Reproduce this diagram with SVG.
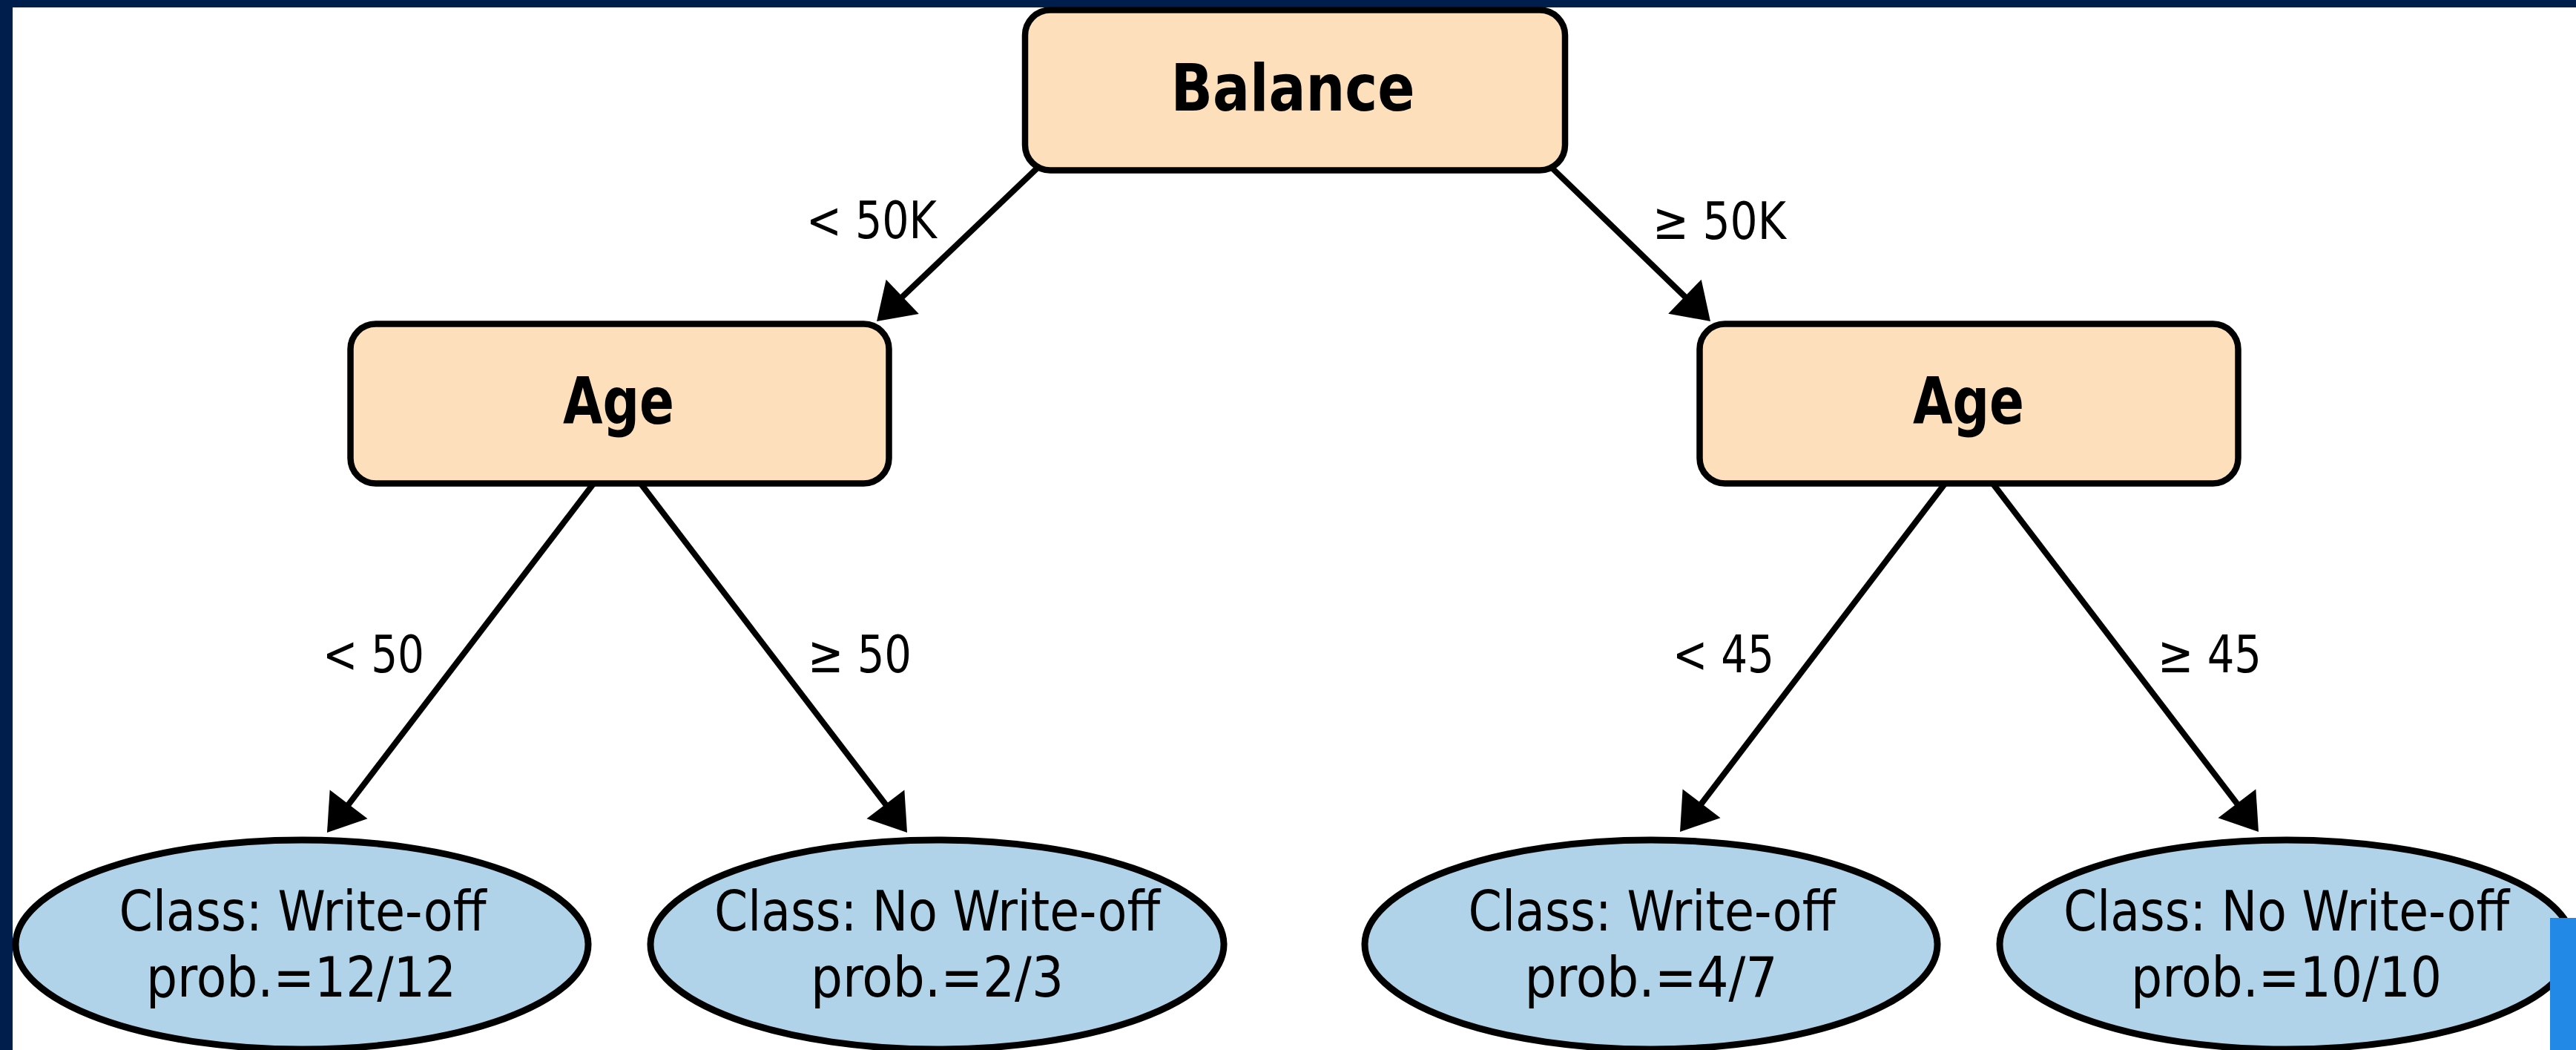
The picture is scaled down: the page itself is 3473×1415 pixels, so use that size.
<svg xmlns="http://www.w3.org/2000/svg" width="3473" height="1415" viewBox="0 0 3473 1415">
  <style>
    .box { fill: #FDDFBB; stroke: #000; stroke-width: 8.5; }
    .leaf { fill: #B0D3EA; stroke: #000; stroke-width: 9; }
    .edge { fill: none; stroke: #000; stroke-width: 8; marker-end: url(#arrow); }
    .title { font-family: "Liberation Sans Narrow", "DejaVu Sans Condensed", "Liberation Sans", sans-serif; font-weight: bold; font-size: 88px; text-anchor: middle; fill: #000; }
    .txt { font-family: "Liberation Sans Narrow", "DejaVu Sans Condensed", "Liberation Sans", sans-serif; font-size: 74px; text-anchor: middle; fill: #000; }
    .lbl { font-family: "Liberation Sans Narrow", "DejaVu Sans Condensed", "Liberation Sans", sans-serif; font-size: 70px; fill: #000; }
  </style>
  <defs>
    <!-- arrowhead: reference point sits 20px behind the tip -->
    <marker id="arrow" markerUnits="userSpaceOnUse" viewBox="-32 -34 54 68" markerWidth="54" markerHeight="68" refX="0" refY="0" orient="auto">
      <path d="M20,0 L-28,-32 L-28,32 Z" fill="#000"/>
    </marker>
  </defs>

  <!-- page background and frame -->
  <rect x="0" y="0" width="3473" height="1415" fill="#fff"/>
  <rect x="0" y="0" width="3473" height="10" fill="#001E4B"/>
  <rect x="0" y="0" width="17" height="1415" fill="#001E4B"/>

  <!-- connectors -->
  <g id="connectors">
    <line class="edge" x1="1400" y1="225" x2="1196.5" y2="419.2"/>
    <line class="edge" x1="2091" y1="225" x2="2291.6" y2="419.1"/>
    <line class="edge" x1="800" y1="652" x2="453.1" y2="1106.1"/>
    <line class="edge" x1="864" y1="652" x2="1210.9" y2="1106.1"/>
    <line class="edge" x1="2622" y1="652" x2="2277.1" y2="1105.1"/>
    <line class="edge" x1="2687" y1="652" x2="3032.9" y2="1105.1"/>
    <text class="lbl" x="1087" y="321" textLength="176" lengthAdjust="spacingAndGlyphs">&lt; 50K</text>
    <text class="lbl" x="2228" y="322" textLength="180" lengthAdjust="spacingAndGlyphs">≥ 50K</text>
    <text class="lbl" x="435" y="906" textLength="137" lengthAdjust="spacingAndGlyphs">&lt; 50</text>
    <text class="lbl" x="1089" y="906" textLength="140" lengthAdjust="spacingAndGlyphs">≥ 50</text>
    <text class="lbl" x="2255" y="906" textLength="137" lengthAdjust="spacingAndGlyphs">&lt; 45</text>
    <text class="lbl" x="2909" y="906" textLength="140" lengthAdjust="spacingAndGlyphs">≥ 45</text>
  </g>

  <!-- decision nodes -->
  <g id="node-balance">
    <rect class="box" x="1382" y="13.5" width="728" height="216" rx="34"/>
    <text class="title" x="1743" y="149" textLength="329" lengthAdjust="spacingAndGlyphs">Balance</text>
  </g>
  <g id="node-age-left">
    <rect class="box" x="472.5" y="436.5" width="726" height="215" rx="34"/>
    <text class="title" x="834" y="571" textLength="150" lengthAdjust="spacingAndGlyphs">Age</text>
  </g>
  <g id="node-age-right">
    <rect class="box" x="2291.5" y="436.5" width="726" height="215" rx="34"/>
    <text class="title" x="2654" y="571" textLength="150" lengthAdjust="spacingAndGlyphs">Age</text>
  </g>

  <!-- leaf nodes -->
  <g id="leaf-1">
    <ellipse class="leaf" cx="407" cy="1273" rx="386" ry="141"/>
    <text class="txt" x="408" y="1254" textLength="495" lengthAdjust="spacingAndGlyphs">Class: Write-off</text>
    <text class="txt" x="406" y="1343" textLength="418" lengthAdjust="spacingAndGlyphs">prob.=12/12</text>
  </g>
  <g id="leaf-2">
    <ellipse class="leaf" cx="1263.5" cy="1273" rx="386.5" ry="141"/>
    <text class="txt" x="1263.5" y="1254" textLength="601" lengthAdjust="spacingAndGlyphs">Class: No Write-off</text>
    <text class="txt" x="1263.5" y="1343" textLength="341" lengthAdjust="spacingAndGlyphs">prob.=2/3</text>
  </g>
  <g id="leaf-3">
    <ellipse class="leaf" cx="2226" cy="1273" rx="386" ry="141"/>
    <text class="txt" x="2227" y="1254" textLength="495" lengthAdjust="spacingAndGlyphs">Class: Write-off</text>
    <text class="txt" x="2226" y="1343" textLength="341" lengthAdjust="spacingAndGlyphs">prob.=4/7</text>
  </g>
  <g id="leaf-4">
    <ellipse class="leaf" cx="3082.5" cy="1273" rx="386.5" ry="141"/>
    <text class="txt" x="3082.5" y="1254" textLength="601" lengthAdjust="spacingAndGlyphs">Class: No Write-off</text>
    <text class="txt" x="3082.5" y="1343" textLength="419" lengthAdjust="spacingAndGlyphs">prob.=10/10</text>
  </g>

  <!-- accent bar at lower right -->
  <rect x="3438" y="1237" width="35" height="178" fill="#2389E6"/>
</svg>
